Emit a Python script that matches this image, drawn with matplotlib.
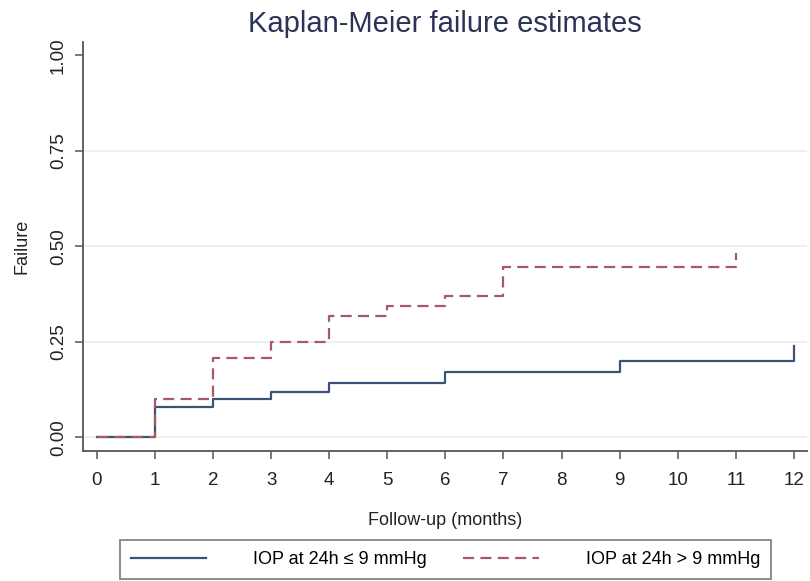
import matplotlib
matplotlib.use("Agg")
import matplotlib.pyplot as plt
from matplotlib.ticker import FormatStrFormatter

plt.rcParams["font.family"] = ["Liberation Sans", "DejaVu Sans"]
plt.rcParams["lines.scale_dashes"] = False

# Kaplan-Meier failure curves (step at each event time)
months_low = [0, 1, 2, 3, 4, 6, 9, 12]
failure_low = [0.0, 0.081, 0.100, 0.120, 0.142, 0.170, 0.200, 0.240]

months_high = [0, 1, 2, 3, 4, 5, 6, 7, 11]
failure_high = [0.0, 0.100, 0.208, 0.250, 0.318, 0.344, 0.369, 0.447, 0.483]

label_low = "IOP at 24h \u2264 9 mmHg"
label_high = "IOP at 24h > 9 mmHg"

x_ticks = list(range(0, 13))
y_ticks = [0.0, 0.25, 0.5, 0.75, 1.0]

NAVY = "#3a5478"
MAROON = "#a45a68"
AXIS_GREY = "#555555"
TEXT = "#222222"

fig = plt.figure(figsize=(8.1, 5.81), dpi=100)
ax = fig.add_axes([0.103, 0.224, 0.893, 0.704])

for y in y_ticks[:-1]:
    ax.axhline(y, color="#ececec", linewidth=1.2, zorder=0)

ax.step(months_low, failure_low, where="post", color=NAVY,
        linewidth=1.6, label=label_low, zorder=3)
ax.step(months_high, failure_high, where="post", color=MAROON,
        linewidth=1.6, dashes=(8, 4.5), label=label_high, zorder=4)

ax.set_xlim(-0.23, 12.22)
ax.set_ylim(-0.035, 1.035)

ax.set_xticks(x_ticks)
ax.set_yticks(y_ticks)
ax.yaxis.set_major_formatter(FormatStrFormatter("%.2f"))
ax.tick_params(axis="both", colors=AXIS_GREY, labelcolor=TEXT,
               labelsize=13.5, length=6, width=1.1)
ax.tick_params(axis="x", pad=9)
ax.tick_params(axis="y", pad=6)
for lbl in ax.get_yticklabels():
    lbl.set_rotation(90)
    lbl.set_va("center")

for side in ("top", "right"):
    ax.spines[side].set_visible(False)
for side in ("left", "bottom"):
    ax.spines[side].set_color(AXIS_GREY)
    ax.spines[side].set_linewidth(1.3)

ax.set_xlabel("Follow-up (months)", fontsize=13, color=TEXT, labelpad=17)
ax.set_ylabel("Failure", fontsize=13, color=TEXT, labelpad=14)

# title sits just above the plot region, centred on it
fig.text(0.103 + 0.893 / 2, 1 - 32 / 581, "Kaplan-Meier failure estimates",
         fontsize=21, color="#2b3356", ha="center", va="baseline")

fig.legend(loc="lower center", bbox_to_anchor=(0.55, 0.004), ncol=2,
           fontsize=13, frameon=True, fancybox=False, edgecolor="#666666",
           handlelength=4.2, handletextpad=2.6, columnspacing=2.0,
           borderpad=0.6, borderaxespad=0.0)
leg = fig.legends[0]
leg.get_frame().set_linewidth(1.3)

fig.savefig("out.png", dpi=100, facecolor="white")
